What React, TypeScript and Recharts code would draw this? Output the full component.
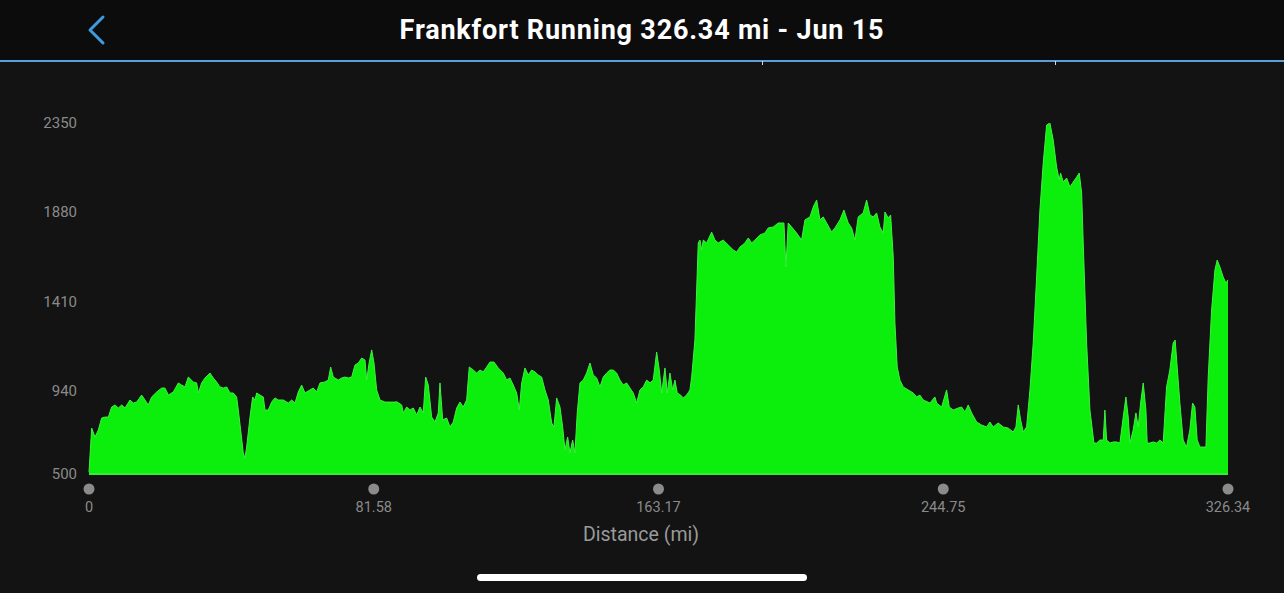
import React from 'react';
import { AreaChart, Area, XAxis, YAxis, ReferenceLine } from 'recharts';

const TITLE = 'Frankfort Running 326.34 mi - Jun 15';
const X_LABEL = 'Distance (mi)';

const xTicks = [0, 81.58, 163.17, 244.75, 326.34];
const xTickLabels = ['0', '81.58', '163.17', '244.75', '326.34'];
const yTicks = [500, 940, 1410, 1880, 2350];

const distance = [
  0, 0.77, 1.72, 2.67, 3.63, 4.58, 5.54, 6.49, 7.45, 8.4, 9.36, 10.31, 11.75, 12.7, 13.66, 15.09, 16.04, 17.0, 17.95, 19.38,
  20.82, 21.77, 22.73, 24.16, 25.6, 26.55, 27.5, 28.46, 29.89, 30.85, 31.32, 32.28, 33.23, 34.67, 35.62, 36.57, 37.53, 38.48, 39.44, 40.4,
  41.35, 42.3, 42.78, 43.45, 44.2, 44.69, 45.17, 46.13, 46.89, 47.56, 48.03, 48.99, 49.94, 50.42, 51.37, 52.33, 53.29, 54.24, 55.67, 57.1,
  58.07, 59.02, 59.96, 60.93, 61.88, 63.31, 64.26, 65.23, 66.18, 67.61, 68.56, 69.24, 69.99, 71.42, 72.4, 73.34, 74.29, 75.26, 76.21, 77.15,
  78.13, 79.07, 79.56, 80.3, 80.99, 81.65, 82.42, 83.37, 84.8, 86.23, 87.67, 88.15, 89.59, 90.05, 91.02, 91.96, 92.91, 93.88, 94.83, 95.77,
  96.46, 97.21, 98.18, 99.13, 100.07, 100.56, 101.33, 102.48, 103.42, 104.37, 105.34, 106.29, 107.23, 108.2, 108.95, 110.1, 111.07, 112.02, 112.96, 113.94,
  114.88, 116.03, 117.26, 118.7, 119.67, 120.61, 121.56, 122.53, 123.28, 123.97, 124.91, 125.86, 126.83, 127.78, 128.72, 129.69, 130.64, 131.59, 132.56, 133.22,
  133.99, 134.94, 135.71, 136.37, 137.14, 137.8, 138.57, 139.23, 139.89, 140.67, 141.61, 142.58, 143.53, 144.48, 145.45, 146.39, 147.34, 148.31, 149.26, 150.2,
  151.18, 152.12, 153.07, 154.04, 154.99, 155.94, 156.91, 157.86, 158.8, 159.78, 160.72, 161.67, 162.64, 163.39, 164.08, 165.02, 165.68, 166.45, 167.22, 167.88,
  168.54, 169.51, 170.26, 171.24, 172.18, 172.67, 173.6, 174.1, 174.56, 175.05, 175.54, 175.99, 176.97, 178.4, 179.34, 180.29, 181.72, 183.16, 184.59, 185.56,
  186.51, 187.94, 188.89, 189.86, 190.8, 192.23, 193.67, 194.61, 196.05, 197.48, 198.45, 199.11, 199.68, 200.34, 201.31, 202.74, 204.17, 205.13, 206.56, 207.5,
  208.48, 209.42, 210.37, 211.34, 212.77, 213.72, 215.15, 216.3, 217.53, 218.5, 219.45, 220.39, 221.82, 222.8, 223.75, 224.7, 225.67, 226.61, 227.56, 228.05,
  229.0, 229.68, 230.43, 230.91, 231.57, 232.34, 233.29, 234.72, 236.15, 237.13, 238.07, 239.02, 240.94, 242.37, 242.86, 244.29, 245.72, 246.47, 247.62, 249.05,
  250.02, 250.97, 251.91, 252.89, 254.32, 255.75, 257.18, 258.13, 259.07, 260.5, 261.94, 263.37, 264.8, 265.58, 266.24, 266.93, 267.67, 268.64, 269.59, 270.53,
  271.51, 272.45, 273.4, 274.37, 275.31, 276.26, 277.23, 277.98, 278.38, 279.13, 280.1, 281.05, 281.99, 282.97, 283.72, 284.41, 284.86, 285.83, 286.78, 287.93,
  288.7, 289.64, 290.59, 291.07, 291.56, 292.51, 293.45, 294.43, 295.37, 296.32, 297.09, 297.75, 298.24, 299.18, 299.96, 300.62, 301.3, 302.05, 302.82, 303.19,
  303.96, 304.9, 305.88, 306.82, 307.77, 308.74, 309.68, 310.63, 311.2, 311.78, 312.55, 313.49, 314.46, 315.41, 316.19, 316.85, 317.51, 318.29, 319.23, 320.01,
  320.67, 321.64, 322.59, 323.25, 324.02, 324.97, 325.74, 326.34,
];

const elevation = [
  510, 742, 695, 732, 795, 800, 800, 853, 864, 848, 864, 848, 890, 874, 879, 916, 890, 864, 906, 932,
  953, 953, 916, 932, 980, 969, 959, 1011, 985, 980, 927, 980, 1006, 1032, 1006, 985, 959, 953, 959, 927,
  927, 906, 837, 732, 611, 584, 642, 800, 906, 890, 927, 916, 906, 837, 837, 879, 901, 890, 890, 874,
  890, 874, 932, 969, 927, 943, 953, 932, 980, 985, 995, 1064, 1011, 995, 1006, 1011, 1006, 1011, 1074, 1085,
  1111, 1101, 995, 1090, 1154, 1085, 943, 890, 879, 879, 879, 881, 864, 822, 853, 837, 848, 811, 853, 822,
  1011, 969, 800, 774, 822, 980, 785, 795, 748, 774, 848, 879, 853, 890, 1064, 1048, 1032, 1048, 1038, 1064,
  1090, 1090, 1059, 1032, 995, 1006, 969, 927, 837, 980, 1059, 1022, 1048, 1038, 1022, 1011, 943, 890, 769, 748,
  901, 853, 748, 626, 695, 611, 679, 611, 822, 980, 995, 1032, 1085, 1022, 1006, 959, 1011, 1032, 1048, 1048,
  1032, 995, 969, 980, 953, 927, 874, 943, 959, 995, 980, 995, 1143, 1048, 927, 1059, 927, 1032, 943, 995,
  927, 916, 901, 916, 943, 1011, 1206, 1470, 1718, 1733, 1681, 1733, 1718, 1775, 1733, 1718, 1733, 1707, 1681, 1670,
  1696, 1718, 1744, 1718, 1733, 1760, 1770, 1797, 1802, 1823, 1823, 1823, 1591, 1823, 1802, 1770, 1733, 1839, 1855, 1907,
  1944, 1839, 1855, 1823, 1775, 1797, 1839, 1891, 1823, 1797, 1733, 1855, 1876, 1944, 1865, 1855, 1876, 1802, 1770, 1881,
  1849, 1865, 1644, 1296, 1064, 995, 959, 943, 927, 906, 916, 890, 874, 906, 874, 853, 943, 853, 837, 848,
  853, 827, 864, 822, 774, 758, 748, 774, 748, 769, 748, 742, 721, 748, 864, 785, 721, 748, 943, 1190,
  1538, 1891, 2139, 2339, 2350, 2260, 2118, 2050, 2086, 2039, 2060, 2013, 2039, 2065, 2086, 1981, 1718, 1190, 837, 663,
  663, 679, 679, 837, 679, 663, 669, 669, 663, 800, 906, 800, 663, 732, 822, 748, 874, 980, 837, 663,
  663, 669, 663, 679, 663, 959, 1048, 1190, 1206, 1064, 874, 679, 642, 732, 874, 853, 679, 642, 642, 642,
  1011, 1364, 1575, 1628, 1591, 1538, 1507, 1523,
];

const data = distance.map((d, i) => ({ d, e: elevation[i] }));

const XTick = (props: any) => {
  const { x, y, payload } = props;
  const idx = xTicks.indexOf(payload.value);
  const label = idx >= 0 ? xTickLabels[idx] : String(payload.value);
  return (
    <g>
      <circle cx={x} cy={y + 15} r={5.5} fill="#8b8b8b" />
      <text x={x} y={y + 38} textAnchor="middle" fontSize={14.5} fill="#8a8a8a">
        {label}
      </text>
    </g>
  );
};

export default function App() {
  return (
    <div
      style={{
        position: 'absolute',
        left: 0,
        top: 0,
        width: 1284,
        height: 593,
        background: '#131313',
        overflow: 'hidden',
        fontFamily: 'Roboto, "Noto Sans", sans-serif',
      }}
    >
      <div
        style={{
          position: 'absolute',
          left: 0,
          top: 0,
          width: 1284,
          height: 60,
          background: '#0c0c0c',
        }}
      />
      <div style={{ position: 'absolute', left: 0, top: 60, width: 1284, height: 2, background: '#5a9fd8' }} />
      <div style={{ position: 'absolute', left: 762, top: 61, width: 1, height: 4, background: '#cfd8e0' }} />
      <div style={{ position: 'absolute', left: 1055, top: 61, width: 1, height: 4, background: '#cfd8e0' }} />
      <svg width={1284} height={593} style={{ position: 'absolute', left: 0, top: 0 }}>
        <polyline points="103,17 90,30 103,43" fill="none" stroke="#3d9be0" strokeWidth={3} strokeLinecap="round" strokeLinejoin="round" />
        <text x={642} y={39} textAnchor="middle" fontSize={27} fontWeight={700} letterSpacing={0.8} fill="#ffffff">
          {TITLE}
        </text>
        <text x={641} y={541} textAnchor="middle" fontSize={19.5} fill="#9a9a9a">
          {X_LABEL}
        </text>
      </svg>
      <div style={{ position: 'absolute', left: 477, top: 574, width: 330, height: 7, borderRadius: 4, background: '#ffffff' }} />
      <div style={{ position: 'absolute', left: 0, top: 0 }}>
        <AreaChart width={1284} height={593} data={data} margin={{ top: 123, right: 56, bottom: 59, left: 0 }}>
          <XAxis
            dataKey="d"
            type="number"
            domain={[0, 326.34]}
            ticks={xTicks}
            interval={0}
            axisLine={false}
            tickLine={false}
            tickSize={0}
            tickMargin={0}
            height={60}
            tick={<XTick />}
          />
          <YAxis
            type="number"
            domain={[500, 2350]}
            ticks={yTicks}
            interval={0}
            axisLine={false}
            tickLine={false}
            tickSize={0}
            tickMargin={12}
            width={89}
            tick={{ fill: '#8a8a8a', fontSize: 15 }}
            allowDataOverflow
          />
          <Area
            type="linear"
            dataKey="e"
            baseValue={500}
            stroke="#3ef03e"
            strokeWidth={1}
            fill="#0cef0c"
            fillOpacity={1}
            isAnimationActive={false}
          />
          <ReferenceLine y={500} stroke="#36ea36" strokeWidth={2} />
        </AreaChart>
      </div>
    </div>
  );
}
